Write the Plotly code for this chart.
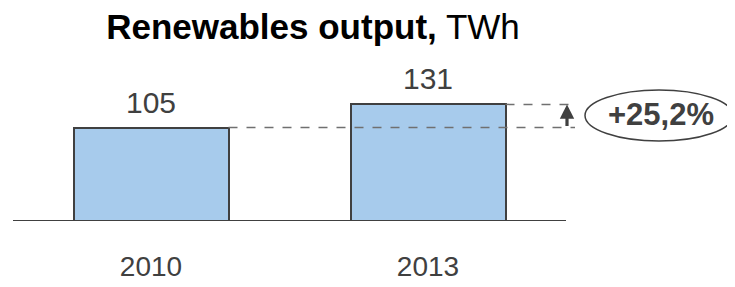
import plotly.graph_objects as go

categories = ["2010", "2013"]
values = [105, 131]
change_label = "+25,2%"
title_bold = "Renewables output,"
title_unit = "TWh"

FONT = "Liberation Sans, Arial, sans-serif"
DARK = "#404040"
FILL = "#A7CBEC"

# page body has an 8px margin; compensate so the picture lines up with the window
OFF = 8
W, H = 735 - OFF, 287 - OFF
px_per_cat = 277.0
x0_px = 151.0 - OFF
base_px = 221.0 - OFF
px_per_unit = 0.89
mb = H - base_px

xs = [0, 1]
x_range = [-x0_px / px_per_cat, (W - x0_px) / px_per_cat]
y_range = [0, base_px / px_per_unit]

def xd(px):
    return (px - OFF - x0_px) / px_per_cat

def yd(py):
    return (base_px - (py - OFF)) / px_per_unit

bar_w = 155 / px_per_cat

fig = go.Figure()
fig.add_trace(go.Bar(
    x=xs, y=values, width=bar_w,
    marker=dict(color=FILL, line=dict(color=DARK, width=2)),
    hoverinfo="skip",
))

shapes = []
shapes.append(dict(type="line", xref="x", yref="y", x0=xd(13), x1=xd(566), y0=0, y1=0,
                   line=dict(color=DARK, width=2), layer="above"))
x_dash_end = xd(575)
shapes.append(dict(type="line", xref="x", yref="y", x0=xs[0] + bar_w / 2, x1=x_dash_end,
                   y0=values[0], y1=values[0], line=dict(color="#707070", width=1.5, dash="dash")))
shapes.append(dict(type="line", xref="x", yref="y", x0=xs[1] + bar_w / 2, x1=x_dash_end,
                   y0=values[1], y1=values[1], line=dict(color="#707070", width=1.5, dash="dash")))
shapes.append(dict(type="circle", xref="x", yref="y", x0=xd(585), x1=xd(733),
                   y0=yd(141), y1=yd(90), line=dict(color=DARK, width=1.5)))

annotations = []
for x, v in zip(xs, values):
    annotations.append(dict(x=x, y=v, xref="x", yref="y", text=str(v), showarrow=False,
                            yanchor="bottom", yshift=7,
                            font=dict(family=FONT, size=30, color=DARK)))
ax_x = xd(567)
annotations.append(dict(x=ax_x, y=values[1], xref="x", yref="y", ax=ax_x, ay=values[0],
                        axref="x", ayref="y", text="", showarrow=True, arrowhead=2,
                        arrowsize=0.9, arrowwidth=3.2, arrowcolor=DARK))
annotations.append(dict(x=xd(661), y=yd(114), xref="x", yref="y", text="<b>" + change_label + "</b>",
                        showarrow=False, font=dict(family=FONT, size=31, color=DARK)))

fig.update_layout(
    width=W, height=H,
    margin=dict(l=0, r=0, t=0, b=mb, pad=0),
    paper_bgcolor="white", plot_bgcolor="white",
    showlegend=False,
    title=dict(text="<b>" + title_bold + "</b> " + title_unit, x=(313 - OFF) / W, xanchor="center",
               y=1 - (27 - OFF) / H, yanchor="middle", yref="container",
               font=dict(family=FONT, size=35, color="black")),
    xaxis=dict(range=x_range, tickvals=xs, ticktext=categories, showgrid=False,
               zeroline=False, showline=False, ticks="", ticklabelstandoff=26,
               tickfont=dict(family=FONT, size=28, color=DARK), fixedrange=True),
    yaxis=dict(range=y_range, visible=False, showgrid=False, zeroline=False, fixedrange=True),
    shapes=shapes, annotations=annotations,
    bargap=0,
)

fig.write_html("out.html")
